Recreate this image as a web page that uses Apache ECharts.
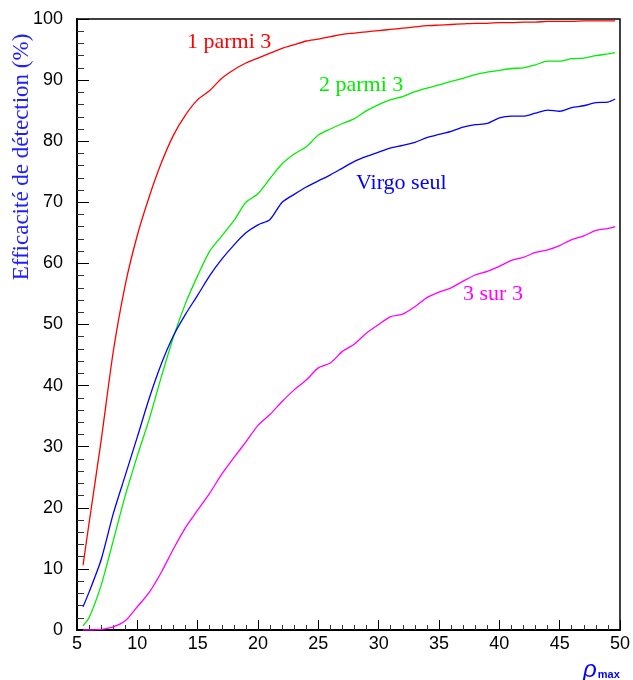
<!DOCTYPE html>
<html>
<head>
<meta charset="utf-8">
<script src="https://cdn.jsdelivr.net/npm/echarts@6/dist/echarts.min.js"></script>
<style>
html,body{margin:0;padding:0;background:#fff;}
#chart{width:633px;height:680px;}
</style>
</head>
<body>
<div id="chart"></div>
<script>
// rho_max values
var rhoMax = [5.5, 6, 7, 8, 9, 10, 11, 12, 13, 14, 15, 16, 17, 18, 19, 20,
  21, 22, 23, 24, 25, 26, 27, 28, 29, 30, 31, 32, 33, 34, 35, 36, 37, 38, 39, 40,
  41, 42, 43, 44, 45, 46, 47, 48, 49, 49.6];

var unParmiTrois = [10.6, 17.5, 31, 45.5, 56.5, 64.6, 71, 76.5, 81, 84.3, 86.8, 88.3, 90.3, 91.7, 92.8, 93.6,
  94.4, 95.2, 95.8, 96.4, 96.7, 97.1, 97.5, 97.7, 97.9, 98.1, 98.3, 98.5, 98.7, 98.9, 99.0, 99.1, 99.2, 99.3, 99.3, 99.4,
  99.4, 99.5, 99.5, 99.6, 99.6, 99.6, 99.7, 99.7, 99.7, 99.7];

var deuxParmiTrois = [0.7, 2.0, 7.3, 14.6, 22, 28.5, 34.6, 41.5, 48, 53.5, 58, 62, 64.5, 67, 70.0, 71.4,
  73.9, 76.3, 77.9, 79.1, 81.0, 82.0, 82.9, 83.7, 85.0, 86.0, 86.8, 87.3, 88.1, 88.7, 89.2, 89.8, 90.3, 90.9, 91.3, 91.6,
  91.9, 92.0, 92.5, 93.1, 93.1, 93.5, 93.6, 94.0, 94.3, 94.5];

var virgoSeul = [3.8, 6.2, 11.5, 19, 25.3, 31.6, 38.0, 43.6, 48.2, 51.7, 54.8, 58, 60.7, 63, 65, 66.3,
  67.2, 70.0, 71.3, 72.5, 73.5, 74.5, 75.6, 76.7, 77.5, 78.2, 78.9, 79.3, 79.8, 80.6, 81.1, 81.6, 82.3, 82.7, 82.9, 83.8,
  84.1, 84.1, 84.6, 85.1, 84.9, 85.5, 85.8, 86.3, 86.4, 86.9];

var troisSurTrois = [0, 0, 0.1, 0.5, 1.5, 3.8, 6.2, 9.5, 13.3, 16.8, 19.6, 22.4, 25.5, 28.2, 30.8, 33.5,
  35.3, 37.4, 39.3, 40.9, 42.9, 43.7, 45.6, 46.8, 48.6, 50.0, 51.3, 51.7, 52.9, 54.4, 55.3, 56.0, 57.1, 58.1, 58.7, 59.5,
  60.5, 61.0, 61.8, 62.2, 62.9, 63.9, 64.5, 65.4, 65.7, 66.0];

var seriesNames = ['1 parmi 3', '2 parmi 3', 'Virgo seul', '3 sur 3'];
var yTitle = 'Efficacité de détection (%)';

function pairs(ys){ return rhoMax.map(function(x,i){ return [x, ys[i]]; }); }

var chart = echarts.init(document.getElementById('chart'), null, {renderer:'canvas'});
var serif = '"Liberation Serif", "Times New Roman", serif';
var sans = '"Liberation Sans", Arial, sans-serif';

function lineSeries(name, ys, color){
  return {
    name: name, type: 'line', data: pairs(ys), showSymbol: false, symbol: 'none',
    smooth: 0.25,
    lineStyle: {color: color, width: 1.3}, itemStyle: {color: color}, animation: false, z: 3
  };
}

chart.setOption({
  animation: false,
  backgroundColor: '#fff',
  grid: {left: 77, right: 12, top: 19, bottom: 50, show: true, borderColor: '#000', borderWidth: 1.5, containLabel: false},
  xAxis: {
    type: 'value', min: 5, max: 50, interval: 5,
    axisLine: {show: true, lineStyle: {color: '#000', width: 2}},
    axisTick: {show: true, inside: true, length: 10, lineStyle: {color: '#000', width: 1}},
    minorTick: {show: true, splitNumber: 5, length: 5, lineStyle: {color: '#333', width: 1}},
    axisLabel: {color: '#000', fontFamily: sans, fontSize: 18, margin: 5},
    splitLine: {show: false}
  },
  yAxis: {
    type: 'value', min: 0, max: 100, interval: 10,
    axisLine: {show: true, lineStyle: {color: '#000', width: 2}},
    axisTick: {show: true, inside: true, length: 12, lineStyle: {color: '#000', width: 1}},
    minorTick: {show: true, splitNumber: 5, length: 7, lineStyle: {color: '#333', width: 1}},
    axisLabel: {color: '#000', fontFamily: sans, fontSize: 18, margin: 14},
    splitLine: {show: false}
  },
  series: [
    lineSeries(seriesNames[0], unParmiTrois, '#ff0000'),
    lineSeries(seriesNames[1], deuxParmiTrois, '#00ee00'),
    lineSeries(seriesNames[2], virgoSeul, '#0000ff'),
    lineSeries(seriesNames[3], troisSurTrois, '#ff00ff')
  ],
  graphic: [
    {type: 'text', left: 187, top: 31, style: {text: seriesNames[0], fill: '#ff0000', font: '22px ' + serif}},
    {type: 'text', left: 319, top: 74, style: {text: seriesNames[1], fill: '#00ee00', font: '22px ' + serif}},
    {type: 'text', left: 356, top: 172, style: {text: seriesNames[2], fill: '#0000ff', font: '22px ' + serif}},
    {type: 'text', left: 463, top: 283, style: {text: seriesNames[3], fill: '#ff00ff', font: '22px ' + serif}},
    {type: 'text', x: 22, y: 157, rotation: Math.PI/2,
     style: {text: yTitle, fill: '#2020ff', font: '23px ' + serif, textAlign: 'center', textVerticalAlign: 'middle'}},
    {type: 'text', x: 583, y: 658, style: {
      text: '{r|ρ}{s|max}', fill: '#0000ff',
      rich: {
        r: {fontFamily: sans, fontSize: 24, fontStyle: 'italic', fill: '#0000ff', verticalAlign: 'bottom'},
        s: {fontFamily: sans, fontSize: 11, fontWeight: 'bold', fill: '#0000ff', padding: [10,0,0,1]}
      }
    }}
  ]
});
</script>
</body>
</html>
